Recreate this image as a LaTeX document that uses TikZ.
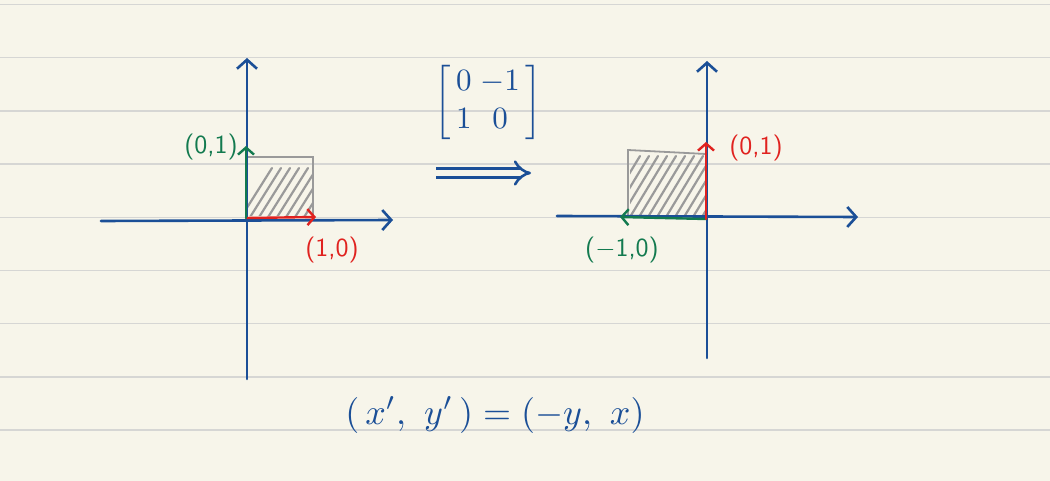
\documentclass[tikz,border=0pt]{standalone}
\usepackage{amsmath}
\usepackage{fontspec}
\usetikzlibrary{arrows.meta}
\definecolor{paper}{HTML}{F7F5EA}
\definecolor{rule}{HTML}{D6D6D4}
\definecolor{inkblue}{HTML}{1B4F97}
\definecolor{inkred}{HTML}{E0221F}
\definecolor{inkgreen}{HTML}{137A4F}
\definecolor{inkgray}{HTML}{9A9A9A}
\tikzset{
  axis/.style={inkblue, line width=2.6pt, line cap=round, -{Straight Barb[length=9pt,width=20pt,line width=2.6pt]}},
  vec/.style={line width=2.4pt, line cap=round, -{Straight Barb[length=7pt,width=16pt,line width=2.4pt]}},
  sq/.style={inkgray, line width=1.8pt},
  hatch/.style={inkgray, line width=2.2pt, line cap=round},
  lbl/.style={font=\sffamily, scale=2.6, inner sep=0pt},
  ruled/.style={rule, line width=1.5pt}
}
\begin{document}
\begin{tikzpicture}[x=1pt,y=-1pt]
\fill[paper] (0,0) rectangle (1050,481);
\useasboundingbox (0,0) rectangle (1050,481);
\foreach \k in {0,...,8} \draw[ruled] (0,4.5+53.2*\k) -- (1050,4.5+53.2*\k);

% ---------- left plot ----------
\coordinate (LxA) at (101,221);
\coordinate (LxB) at (393,220);
\coordinate (LyA) at (247,379);
\coordinate (LyB) at (247,58);
\coordinate (LO) at (246,218);
\coordinate (Le1) at (316,217);
\coordinate (Le2) at (246,146);
\begin{scope}
  \clip (248,158) rectangle (312,216);
  \foreach \s in {0,...,9} \draw[hatch] (238+9*\s,222) -- (272+9*\s,168);
\end{scope}
\draw[sq] (246,157) -- (313,157) -- (313,216);
\draw[axis] (LxA) -- (LxB);
\draw[axis] (LyA) -- (LyB);
\draw[vec, inkred] (LO) -- (Le1);
\draw[vec, inkgreen] (LO) -- (Le2);
\node[lbl, text=inkred] (l10) at (332,250) {(1,0)};
\node[lbl, text=inkgreen] (l01) at (211,147) {(0,1)};

% ---------- matrix and arrow ----------
\node[inkblue, inner sep=0pt, scale=3.1] (mat) at (488,102)
  {$\left[\begin{array}{@{\,}c@{\;}c@{\,}}0&-1\\1&0\end{array}\right]$};
\coordinate (arA) at (436,173);
\coordinate (arB) at (531,173);
\draw[inkblue, line width=2.6pt, double=paper, double distance=6pt, -{Implies[length=11pt]}] (arA) -- (arB);

% ---------- right plot ----------
\coordinate (RxA) at (557,216);
\coordinate (RxB) at (858,217);
\coordinate (RyA) at (707,358);
\coordinate (RyB) at (707,61);
\coordinate (RO) at (706,219);
\coordinate (Re1) at (706,142);
\coordinate (Re2) at (620,217);
\begin{scope}
  \clip (630,152) -- (705,155) -- (705,215) -- (630,215) -- cycle;
  \foreach \s in {0,...,11} \draw[hatch] (600+9*\s,222) -- (640+9*\s,156);
\end{scope}
\draw[sq] (628,215) -- (628,150) -- (706,154);
\draw[axis] (RxA) -- (RxB);
\draw[axis] (RyA) -- (RyB);
\draw[vec, inkgreen] (RO) -- (Re2);
\draw[vec, inkred] (RO) -- (Re1);
\node[lbl, text=inkred] (r01) at (756,148) {(0,1)};
\node[lbl, text=inkgreen] (rm10) at (622,250) {($-$1,0)};

% ---------- equation ----------
\node[inkblue, inner sep=0pt, scale=3.6] (eq) at (495,415)
  {$(\,x',\ y'\,) = (-y,\ x)$};
\end{tikzpicture}
\end{document}
